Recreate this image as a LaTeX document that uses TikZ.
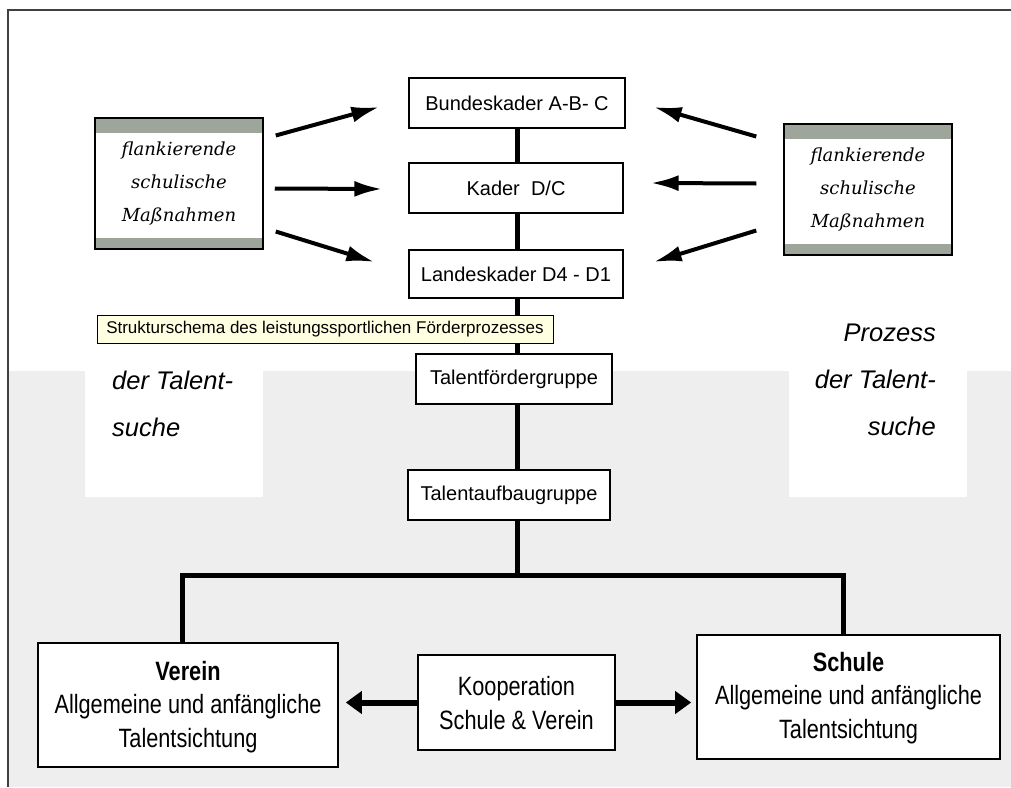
\documentclass[tikz,border=0pt]{standalone}
\usepackage{fontspec}
\setmainfont{Liberation Sans}
\newfontfamily\flankfont{DejaVu Serif}
\newfontfamily\narrowfont{Liberation Sans}[FakeStretch=0.82]
\usetikzlibrary{arrows.meta,calc}

\definecolor{hellgrau}{RGB}{238,238,238}
\definecolor{bandgrau}{RGB}{158,166,156}
\definecolor{tipgelb}{RGB}{255,255,225}

\begin{document}
\begin{tikzpicture}[x=1pt,y=-1pt,
  kaderbox/.style={draw,line width=1.3pt,fill=white,inner sep=0pt,
    minimum height=50pt,font=\fontsize{20}{23}\selectfont},
  basisbox/.style={draw,line width=1.6pt,fill=white,inner sep=0pt},
  basistext/.style={inner sep=0pt,align=center,
    font=\narrowfont\fontsize{26.5}{33.5}\selectfont},
  flankbox/.style={draw,line width=1.5pt,fill=white,inner sep=0pt,align=center,
    minimum width=168pt,minimum height=131pt,
    font=\flankfont\itshape\fontsize{18}{33}\selectfont,
    path picture={
      \fill[bandgrau] (path picture bounding box.north west) rectangle ([yshift=-15pt]path picture bounding box.north east);
      \fill[bandgrau] (path picture bounding box.south west) rectangle ([yshift=11pt]path picture bounding box.south east);}},
  prozess/.style={inner sep=0pt,font=\itshape\fontsize{25.5}{47}\selectfont},
  linie/.style={line width=5pt},
  pfeil/.style={line width=4pt,-{Latex[length=28pt,width=16pt]}},
  doppelpfeil/.style={line width=6pt,-{Triangle[length=16pt,width=22pt]}}]

\useasboundingbox (0,0) rectangle (1011,787);

% Hintergrund und Rahmen
\fill[hellgrau] (8,371) rectangle (1011,787);
\fill[white] (85,371) rectangle (263,497);
\fill[white] (789,371) rectangle (967,497);
\draw[line width=2pt,color=black!75] (8,787) -- (8,10) -- (1011,10);

\node[prozess,align=right,anchor=east] (prozR) at (936,380) {Prozess\\der Talent-\\suche};
\node[prozess,align=left,anchor=west] (prozL) at (112,404) {der Talent-\\suche};

% Kader
\node[kaderbox,minimum width=216pt] (bund) at (517,103) {Bundeskader A-B- C};
\node[kaderbox,minimum width=214pt] (kader) at (516,188) {Kader\ \ D/C};
\node[kaderbox,minimum width=214pt,minimum height=48pt] (landes) at (516,274) {Landeskader D4 - D1};
\node[kaderbox,minimum width=196pt] (tfg) at (514,379) {Talentfördergruppe};
\node[kaderbox,minimum width=202pt] (tag) at (509,495) {Talentaufbaugruppe};

\coordinate (gabel) at (517,575);
\coordinate (astL) at (182,575);
\coordinate (astR) at (843,575);

% Basis
\node[basisbox,minimum width=300pt,minimum height=124pt] (verein) at (188,705) {};
\node[basistext] (vereinText) at (188,707)
  {\textbf{Verein}\\Allgemeine und anfängliche\\Talentsichtung};
\node[basisbox,minimum width=303pt,minimum height=124pt] (schule) at (848.5,697) {};
\node[basistext] (schuleText) at (848.5,698)
  {\textbf{Schule}\\Allgemeine und anfängliche\\Talentsichtung};
\node[basisbox,minimum width=197pt,minimum height=95pt] (koop) at (516.5,702.5) {};
\node[basistext] (koopText) at (516.5,703)
  {Kooperation\\Schule \& Verein};

\draw[linie] (bund.south -| gabel) -- (kader.north -| gabel);
\draw[linie] (kader.south -| gabel) -- (landes.north -| gabel);
\draw[linie] (landes.south -| gabel) -- (tfg.north -| gabel);
\draw[linie] (tfg.south -| gabel) -- (tag.north -| gabel);
\draw[linie] (tag.south -| gabel) -- (gabel);
\draw[linie] (verein.north -| astL) -- (astL) -- (astR) -- (schule.north -| astR);

\draw[doppelpfeil] (koop.west) -- ($(verein.east |- koop.west)+(7,0)$);
\draw[doppelpfeil] (koop.east) -- ($(schule.west |- koop.east)+(-5,0)$);

% flankierende Massnahmen
\node[flankbox] (flankL) at (179,183.5) {flankierende\\schulische\\Maßnahmen};
\node[flankbox] (flankR) at (868,189.5) {flankierende\\schulische\\Maßnahmen};

\draw[pfeil] ($(flankL.east)+(12,-48)$) -- ($(bund.west)+(-29,4)$);
\draw[pfeil] ($(flankL.east)+(11,5)$) -- ($(kader.west)+(-26,1)$);
\draw[pfeil] ($(flankL.east)+(12,48)$) -- ($(landes.west)+(-34,-12)$);
\draw[pfeil] ($(flankR.west)+(-27,-53)$) -- ($(bund.east)+(28,4)$);
\draw[pfeil] ($(flankR.west)+(-27,-6)$) -- ($(kader.east)+(27,-5)$);
\draw[pfeil] ($(flankR.west)+(-27,41)$) -- ($(landes.east)+(30,-12)$);

\node[draw,line width=1pt,fill=tipgelb,inner sep=0pt,minimum width=456pt,minimum height=28pt,
  font=\fontsize{17}{20}\selectfont] (hinweis) at (325,329)
  {Strukturschema des leistungssportlichen Förderprozesses};
\end{tikzpicture}
\end{document}
